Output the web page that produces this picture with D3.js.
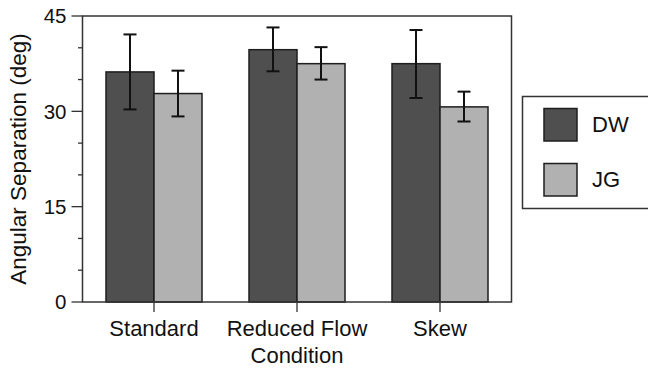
<!DOCTYPE html>
<html>
<head>
<meta charset="utf-8">
<script src="https://cdn.jsdelivr.net/npm/d3@7"></script>
<style>
  html, body { margin: 0; padding: 0; background: #fff; }
  svg { display: block; font-family: "Liberation Sans", Arial, Helvetica, sans-serif; }
</style>
</head>
<body>
<svg id="chart" width="648" height="370"></svg>
<script>
const categories = ["Standard", "Reduced Flow", "Skew"];
const seriesNames = ["DW", "JG"];
const dwValues = [36.2, 39.7, 37.5];
const jgValues = [32.8, 37.5, 30.7];
const dwErrLow = [30.3, 36.3, 32.1];
const dwErrHigh = [42.1, 43.2, 42.8];
const jgErrLow = [29.2, 35.0, 28.4];
const jgErrHigh = [36.4, 40.1, 33.1];
const yTickLabels = [0, 15, 30, 45];
const yMinorTicks = [0, 5, 10, 15, 20, 25, 30, 35, 40, 45];
const colors = { DW: "#4f4f4f", JG: "#b1b1b1" };

const series = [
  { name: "DW", values: dwValues, lo: dwErrLow, hi: dwErrHigh },
  { name: "JG", values: jgValues, lo: jgErrLow, hi: jgErrHigh }
];

const svg = d3.select("#chart");
const mLeft = 82.5, mRight = 511.5, mTop = 16, mBottom = 302;

const y = d3.scaleLinear().domain([0, 45]).range([mBottom, mTop]);
const pad = 47 / 143;
const x = d3.scaleBand().domain(categories).range([mLeft, mRight])
  .paddingInner(pad).paddingOuter(pad / 2);
const xi = d3.scaleBand().domain(seriesNames).range([0, x.bandwidth()]);

// bars
const groups = svg.append("g").selectAll("g")
  .data(series).join("g");

groups.selectAll("rect")
  .data(s => categories.map((c, i) => ({ c, s: s.name, v: s.values[i] })))
  .join("rect")
  .attr("x", d => x(d.c) + xi(d.s))
  .attr("y", d => y(d.v))
  .attr("width", xi.bandwidth())
  .attr("height", d => y(0) - y(d.v))
  .attr("fill", d => colors[d.s])
  .attr("stroke", "#1e1e1e")
  .attr("stroke-width", 1.5);

// error bars
const errs = [];
series.forEach(s => categories.forEach((c, i) => {
  errs.push({ cx: x(c) + xi(s.name) + xi.bandwidth() / 2, lo: s.lo[i], hi: s.hi[i] });
}));
const eg = svg.append("g").attr("stroke", "#111").attr("stroke-width", 2).attr("fill", "none");
errs.forEach(e => {
  eg.append("line").attr("x1", e.cx).attr("x2", e.cx).attr("y1", y(e.lo)).attr("y2", y(e.hi));
  eg.append("line").attr("x1", e.cx - 6.5).attr("x2", e.cx + 6.5).attr("y1", y(e.lo)).attr("y2", y(e.lo));
  eg.append("line").attr("x1", e.cx - 6.5).attr("x2", e.cx + 6.5).attr("y1", y(e.hi)).attr("y2", y(e.hi));
});

// frame
svg.append("rect")
  .attr("x", mLeft).attr("y", mTop)
  .attr("width", mRight - mLeft).attr("height", mBottom - mTop)
  .attr("fill", "none").attr("stroke", "#333").attr("stroke-width", 1.5);

// y axis ticks
const yAxis = svg.append("g");
yAxis.selectAll("line").data(yMinorTicks).join("line")
  .attr("x1", d => yTickLabels.includes(d) ? mLeft - 11 : mLeft - 4.5)
  .attr("x2", mLeft)
  .attr("y1", d => y(d)).attr("y2", d => y(d))
  .attr("stroke", "#333").attr("stroke-width", 1.3);
yAxis.selectAll("text").data(yTickLabels).join("text")
  .attr("x", mLeft - 16)
  .attr("y", d => y(d))
  .attr("dy", "0.36em")
  .attr("text-anchor", "end")
  .attr("font-size", 20.5)
  .attr("fill", "#111")
  .text(d => d);

// x axis ticks at category centers
const xAxis = svg.append("g");
xAxis.selectAll("line").data(categories).join("line")
  .attr("x1", d => x(d) + x.bandwidth() / 2)
  .attr("x2", d => x(d) + x.bandwidth() / 2)
  .attr("y1", mBottom - 1).attr("y2", mBottom + 10)
  .attr("stroke", "#333").attr("stroke-width", 1.3);
xAxis.selectAll("text").data(categories).join("text")
  .attr("x", d => x(d) + x.bandwidth() / 2)
  .attr("y", 336)
  .attr("text-anchor", "middle")
  .attr("font-size", 22)
  .attr("fill", "#111")
  .text(d => d);

// axis titles
svg.append("text")
  .attr("x", x("Reduced Flow") + x.bandwidth() / 2)
  .attr("y", 363)
  .attr("text-anchor", "middle")
  .attr("font-size", 22)
  .attr("fill", "#111")
  .text("Condition");

svg.append("text")
  .attr("transform", "translate(26," + 159 + ") rotate(-90)")
  .attr("text-anchor", "middle")
  .attr("font-size", 22.5)
  .attr("fill", "#111")
  .text("Angular Separation (deg)");

// legend
const lg = svg.append("g");
lg.append("rect")
  .attr("x", 522.5).attr("y", 96.5)
  .attr("width", 140).attr("height", 112)
  .attr("fill", "#fff").attr("stroke", "#333").attr("stroke-width", 1.5);
const legY = d3.scalePoint().domain(seriesNames).range([108.5, 163.5]);
lg.selectAll("rect.sw").data(seriesNames).join("rect")
  .attr("class", "sw")
  .attr("x", 544).attr("y", d => legY(d))
  .attr("width", 33).attr("height", 32.5)
  .attr("fill", d => colors[d])
  .attr("stroke", "#1e1e1e").attr("stroke-width", 1.5);
lg.selectAll("text").data(seriesNames).join("text")
  .attr("x", 592)
  .attr("y", d => legY(d) + 16)
  .attr("dy", "0.36em")
  .attr("font-size", 22)
  .attr("fill", "#111")
  .text(d => d);
</script>
</body>
</html>
